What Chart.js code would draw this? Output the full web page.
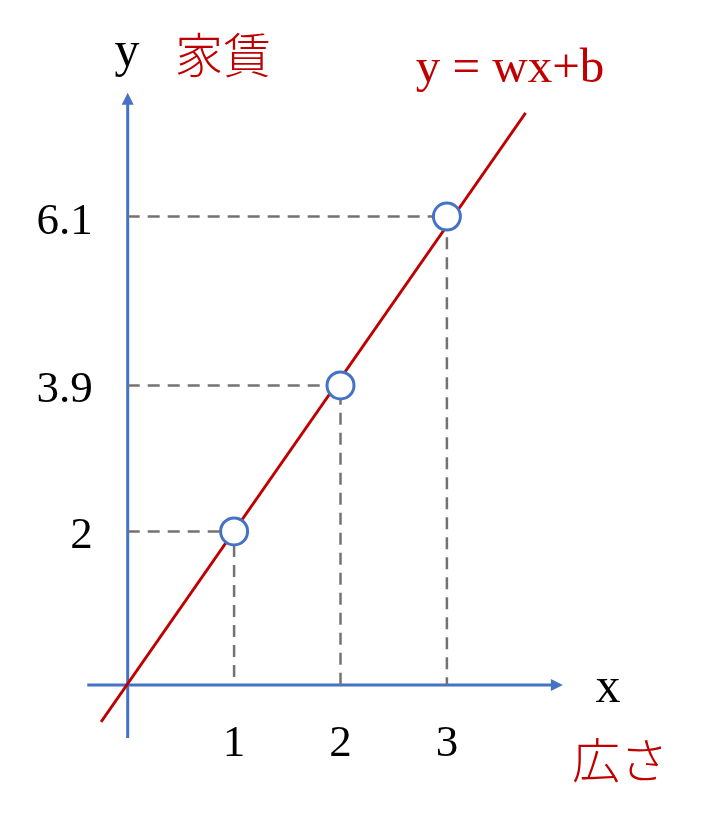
<!DOCTYPE html>
<html>
<head>
<meta charset="utf-8">
<script src="https://cdn.jsdelivr.net/npm/chart.js@4.4.0/dist/chart.umd.min.js"></script>
<style>
  html, body { margin: 0; padding: 0; background: #ffffff; }
  canvas { display: block; }
</style>
</head>
<body>
<canvas id="myChart" width="727" height="821"></canvas>
<script>
const xValues = [1, 2, 3];            // 広さ
const yValues = [2, 3.9, 6.1];        // 家賃
const xTickLabels = ['1', '2', '3'];
const yTickLabels = ['2', '3.9', '6.1'];
const lineX = [-0.25, 3.74];          // y = wx+b
const lineY = [-0.48, 7.45];
const xAxisRange = [-0.38, 4.09];
const yAxisRange = [-0.69, 7.71];

const BLUE = '#4472C4';
const RED = '#C00000';
const GRAY = '#767171';
const SERIF = '"Liberation Serif", "Times New Roman", serif';
const CJK = '"Noto Sans CJK JP", sans-serif';

function guide(i){
    return {
        data: [{x: 0, y: yValues[i]}, {x: xValues[i], y: yValues[i]}, {x: xValues[i], y: 0}],
        showLine: true,
        borderColor: GRAY,
        borderWidth: 2.5,
        borderDash: [12, 8],
        pointRadius: 0,
        clip: false
    };
}

const axesPlugin = {
    id: 'axes',
    beforeDatasetsDraw(chart){
        const ctx = chart.ctx;
        const xs = chart.scales.x, ys = chart.scales.y;
        const x0 = xs.getPixelForValue(0), y0 = ys.getPixelForValue(0);
        const xa = xs.getPixelForValue(xAxisRange[0]), xb = xs.getPixelForValue(xAxisRange[1]);
        const ya = ys.getPixelForValue(yAxisRange[0]), yb = ys.getPixelForValue(yAxisRange[1]);
        ctx.save();
        ctx.strokeStyle = BLUE;
        ctx.fillStyle = BLUE;
        ctx.lineWidth = 3;
        ctx.beginPath();
        ctx.moveTo(xa, y0); ctx.lineTo(xb - 10, y0);
        ctx.moveTo(x0, ya); ctx.lineTo(x0, yb + 10);
        ctx.stroke();
        // arrow heads
        ctx.beginPath();
        ctx.moveTo(xb, y0); ctx.lineTo(xb - 12, y0 - 6); ctx.lineTo(xb - 12, y0 + 6); ctx.closePath();
        ctx.moveTo(x0, yb); ctx.lineTo(x0 - 6, yb + 12); ctx.lineTo(x0 + 6, yb + 12); ctx.closePath();
        ctx.fill();
        ctx.restore();
    },
    afterDraw(chart){
        const ctx = chart.ctx;
        const xs = chart.scales.x, ys = chart.scales.y;
        const x0 = xs.getPixelForValue(0), y0 = ys.getPixelForValue(0);
        ctx.save();
        ctx.fillStyle = '#000000';
        ctx.font = '45px ' + SERIF;
        ctx.textBaseline = 'alphabetic';
        ctx.textAlign = 'center';
        xTickLabels.forEach((t, i) => ctx.fillText(t, xs.getPixelForValue(xValues[i]), y0 + 71));
        ctx.textAlign = 'right';
        yTickLabels.forEach((t, i) => ctx.fillText(t, x0 - 35, ys.getPixelForValue(yValues[i]) + 17));

        ctx.font = '50px ' + SERIF;
        ctx.textAlign = 'center';
        ctx.fillText('y', 127, 66);
        ctx.fillText('x', 608, 702);

        ctx.fillStyle = RED;
        ctx.font = '49px ' + SERIF;
        ctx.fillText('y = wx+b', 510, 82);
        ctx.font = '300 48px ' + CJK;
        ctx.textBaseline = 'middle';
        ctx.fillText('家賃', 223, 55);
        ctx.fillText('広さ', 620, 760);
        ctx.restore();
    }
};

const ctx = document.getElementById('myChart');
const myChart = new Chart(ctx, {
    type: 'scatter',
    data: {
        datasets: [{
            label: '家賃',
            data: xValues.map((x, i) => ({x: x, y: yValues[i]})),
            pointRadius: 13.5,
            pointBorderWidth: 3,
            pointBackgroundColor: '#ffffff',
            pointBorderColor: BLUE,
            showLine: false,
            clip: false
        }, {
            label: 'y = wx+b',
            data: lineX.map((x, i) => ({x: x, y: lineY[i]})),
            showLine: true,
            borderColor: RED,
            borderWidth: 2.8,
            pointRadius: 0,
            clip: false
        },
        guide(0), guide(1), guide(2)]
    },
    options: {
        responsive: false,
        animation: false,
        devicePixelRatio: 1,
        layout: { padding: { left: 21.3, right: 67.3, top: 70.6, bottom: 59.2 } },
        plugins: { legend: { display: false }, tooltip: { enabled: false } },
        scales: {
            x: { type: 'linear', min: -1, max: 5, display: false },
            y: { type: 'linear', min: -1, max: 8, display: false }
        }
    },
    plugins: [axesPlugin]
});
</script>
</body>
</html>
